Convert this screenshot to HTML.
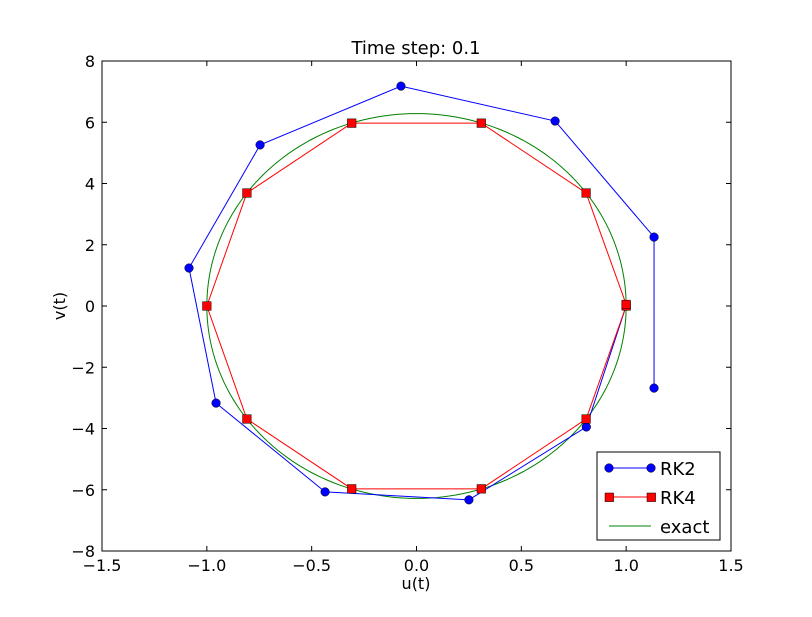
<!DOCTYPE html>
<html><head><meta charset="utf-8"><style>
body{margin:0;background:#fff}
svg{font-family:"DejaVu Sans","Liberation Sans",sans-serif}
</style></head><body>
<svg id="chart" width="812" height="612" xmlns="http://www.w3.org/2000/svg">
<rect x="0" y="0" width="812" height="612" fill="#fff"/>
<g id="plot"></g>
</svg>
<script>
const xTicks=[-1.5,-1.0,-0.5,0.0,0.5,1.0,1.5];
const yTicks=[-8,-6,-4,-2,0,2,4,6,8];
const rk2U=[1,0.81,0.25,-0.436,-0.956,-1.085,-0.746,-0.074,0.661,1.133,1.133];
const rk2V=[0,-3.95,-6.33,-6.07,-3.17,1.24,5.26,7.18,6.04,2.25,-2.68];
const rk4U=[1,0.809,0.309,-0.309,-0.809,-1,-0.809,-0.309,0.309,0.809,1];
const rk4V=[0,-3.69,-5.97,-5.97,-3.69,0,3.69,5.97,5.97,3.69,0.05];
const exactAmpU=1, exactAmpV=6.2832;
const L=102,R=731,T=61,B=551;
const sx=u=>L+(u+1.5)/3*(R-L);
const sy=v=>B-(v+8)/16*(B-T);
const NS="http://www.w3.org/2000/svg";
const g=document.getElementById('plot');
function mk(t,a){const e=document.createElementNS(NS,t);for(const k in a)e.setAttribute(k,a[k]);g.appendChild(e);return e;}
const fmt=v=>(v<0?"\u2212":"")+Math.abs(v).toFixed(1);
let d="";for(let i=0;i<=200;i++){const t=i/200*2*Math.PI;d+=(i?"L":"M")+sx(exactAmpU*Math.cos(t)).toFixed(2)+","+sy(exactAmpV*Math.sin(t)).toFixed(2);}
let e=mk('path',{d:d,fill:'none',stroke:'#008000','stroke-width':1});

e=mk('polyline',{points:rk2U.map((u,i)=>sx(u)+","+sy(rk2V[i])).join(" "),fill:'none',stroke:'#0000ff','stroke-width':1});

rk2U.forEach((u,i)=>{const c=mk('circle',{cx:sx(u),cy:sy(rk2V[i]),r:4.3,fill:'#0000ff',stroke:'#000','stroke-width':0.5});
});
e=mk('polyline',{points:rk4U.map((u,i)=>sx(u)+","+sy(rk4V[i])).join(" "),fill:'none',stroke:'#ff0000','stroke-width':1});

rk4U.forEach((u,i)=>{const c=mk('rect',{x:sx(u)-4.3,y:sy(rk4V[i])-4.3,width:8.6,height:8.6,fill:'#ff0000',stroke:'#000','stroke-width':0.5});
});
e=mk('rect',{x:L,y:T,width:R-L,height:B-T,fill:'none',stroke:'#000','stroke-width':1});

xTicks.forEach(v=>{const x=sx(v);
mk('line',{x1:x,y1:B,x2:x,y2:B-5,stroke:'#000'});mk('line',{x1:x,y1:T,x2:x,y2:T+5,stroke:'#000'});
const t=mk('text',{x:x,y:B+20,'text-anchor':'middle','font-size':16});t.textContent=fmt(v);
});
yTicks.forEach(v=>{const y=sy(v);
mk('line',{x1:L,y1:y,x2:L+5,y2:y,stroke:'#000'});mk('line',{x1:R,y1:y,x2:R-5,y2:y,stroke:'#000'});
const t=mk('text',{x:L-7,y:y+6,'text-anchor':'end','font-size':16});t.textContent=(v<0?"\u2212":"")+Math.abs(v);
});
</script>
<svg style="position:absolute;left:0;top:0" width="812" height="612" xmlns="http://www.w3.org/2000/svg" font-family="DejaVu Sans, Liberation Sans, sans-serif">
<text x="416" y="54" text-anchor="middle" font-size="18">Time step: 0.1</text>
<text x="416" y="589" text-anchor="middle" font-size="16">u(t)</text>
<text x="65" y="306" text-anchor="middle" font-size="16" transform="rotate(-90 65 306)">v(t)</text>
<g>
<rect x="597" y="452" width="123" height="88" fill="#fff" stroke="#000" stroke-width="1"/>
<g><line x1="609" y1="468" x2="651" y2="468" stroke="#0000ff"/><circle cx="609" cy="468" r="4.3" fill="#0000ff" stroke="#000" stroke-width="0.5"/><circle cx="651" cy="468" r="4.3" fill="#0000ff" stroke="#000" stroke-width="0.5"/><text x="660" y="475" font-size="18">RK2</text></g>
<g><line x1="609" y1="497" x2="651" y2="497" stroke="#ff0000"/><rect x="605" y="493" width="8.6" height="8.6" fill="#ff0000" stroke="#000" stroke-width="0.5"/><rect x="647" y="493" width="8.6" height="8.6" fill="#ff0000" stroke="#000" stroke-width="0.5"/><text x="660" y="504" font-size="18">RK4</text></g>
<g><line x1="609" y1="526" x2="651" y2="526" stroke="#008000"/><text x="660" y="533" font-size="18">exact</text></g>
</g>
</svg>
</body></html>
